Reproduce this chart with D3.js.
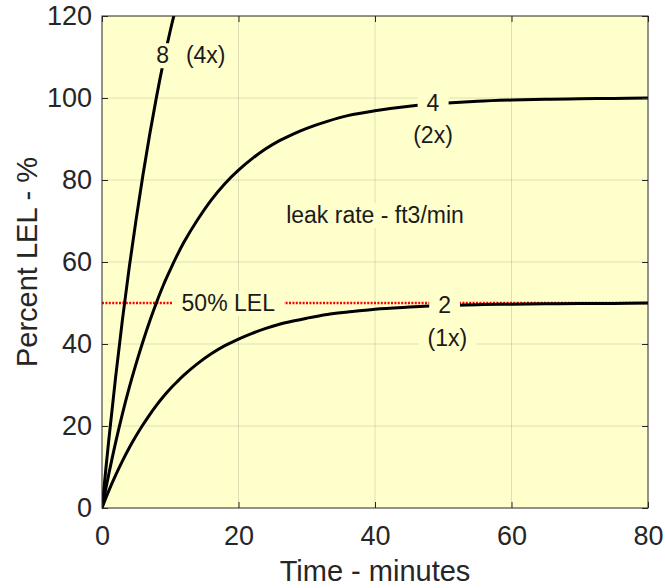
<!DOCTYPE html>
<html>
<head>
<meta charset="utf-8">
<script src="https://cdn.jsdelivr.net/npm/d3@7"></script>
<style>
    body { margin: 0; background: #fff; }
    text { font-family: "Liberation Sans", Arial, sans-serif; fill: #262626; }
    .tick text { font-size: 27px; }
    .axisLabel { font-size: 29px; }
    .note { font-size: 23px; fill: #1a1a1a; }
</style>
</head>
<body>
<script>
// time in minutes
const times = [0, 1, 2, 3, 4, 5, 6, 7, 8, 9, 10, 11, 12, 14, 16, 18, 20, 22, 24, 26, 28, 30, 33, 36, 40, 45, 50, 55, 60, 65, 70, 75, 80];

// percent LEL, leak rate 2, 4, 8 ft3/min
const rate2 = [0, 4.2, 8.0, 11.5, 14.7, 17.6, 20.3, 22.8, 25.1, 27.2, 29.1, 30.8, 32.4, 35.2, 37.6, 39.6, 41.2, 42.6, 43.8, 44.8, 45.6, 46.3, 47.2, 47.8, 48.5, 49.0, 49.4, 49.6, 49.7, 49.8, 49.9, 49.9, 50.0];
const rate4 = [0, 8.3, 16.0, 23.0, 29.4, 35.2, 40.6, 45.6, 50.2, 54.4, 58.1, 61.6, 64.8, 70.3, 75.1, 79.1, 82.4, 85.2, 87.6, 89.6, 91.2, 92.6, 94.3, 95.7, 96.9, 98.0, 98.7, 99.2, 99.5, 99.7, 99.8, 99.9, 100.0];
const rate8 = [0, 16.7, 32.0, 46.0, 58.8, 70.4, 81.2, 91.2, 100.4, 108.8, 116.4, 123.2, 129.6];

const xTicks = [0, 20, 40, 60, 80];
const yTicks = [0, 20, 40, 60, 80, 100, 120];
const lelLevel = 50;

// annotations in data coordinates
const notes = [
    { text: "8", t: 8.9, v: 110.5 },
    { text: "(4x)", t: 15.2, v: 110.5 },
    { text: "4", t: 48.5, v: 98.8 },
    { text: "(2x)", t: 48.5, v: 91.0 },
    { text: "2", t: 50.2, v: 49.6 },
    { text: "(1x)", t: 50.6, v: 41.6 },
    { text: "50% LEL", t: 18.5, v: 50 },
    { text: "leak rate - ft3/min", t: 40, v: 71.5 }
];

const margin = { top: 16, right: 17, bottom: 80, left: 102 };
const width = 665 - margin.left - margin.right;
const height = 588 - margin.top - margin.bottom;
const bg = "#ffffcc";

const x = d3.scaleLinear().domain([0, 80]).range([0, width]);
const y = d3.scaleLinear().domain([0, 120]).range([height, 0]);

const svg = d3.select("body").append("svg")
    .attr("width", 665)
    .attr("height", 588);

const g = svg.append("g")
    .attr("transform", "translate(" + margin.left + "," + margin.top + ")");

g.append("defs").append("clipPath")
    .attr("id", "plotClip")
    .append("rect")
    .attr("width", width)
    .attr("height", height);

g.append("rect")
    .attr("width", width)
    .attr("height", height)
    .attr("fill", bg);

// grid
g.append("g").selectAll("line")
    .data(xTicks.slice(1, -1))
    .enter().append("line")
    .attr("x1", d => x(d)).attr("x2", d => x(d))
    .attr("y1", 0).attr("y2", height)
    .attr("stroke", "rgba(38,38,38,0.15)");
g.append("g").selectAll("line")
    .data(yTicks.slice(1, -1))
    .enter().append("line")
    .attr("x1", 0).attr("x2", width)
    .attr("y1", d => y(d)).attr("y2", d => y(d))
    .attr("stroke", "rgba(38,38,38,0.15)");

// 50% LEL line
g.append("line")
    .attr("x1", 0).attr("x2", width)
    .attr("y1", y(lelLevel)).attr("y2", y(lelLevel))
    .attr("stroke", "#ff0000")
    .attr("stroke-width", 2.6)
    .attr("stroke-dasharray", "2,1.4");

// curves
const line = d3.line()
    .x((d, i) => x(times[i]))
    .y(d => y(d))
    .curve(d3.curveCatmullRom);

const curves = g.append("g").attr("clip-path", "url(#plotClip)");
[rate2, rate4, rate8].forEach(function (s) {
    curves.append("path")
        .datum(s)
        .attr("fill", "none")
        .attr("stroke", "#000")
        .attr("stroke-width", 3)
        .attr("d", line);
});

// annotations with background boxes
const noteG = g.selectAll(".noteG")
    .data(notes)
    .enter().append("g");
noteG.append("rect").attr("fill", bg);
noteG.append("text")
    .attr("class", "note")
    .attr("x", d => x(d.t))
    .attr("y", d => y(d.v))
    .attr("dy", "0.36em")
    .attr("text-anchor", "middle")
    .text(d => d.text);
noteG.each(function () {
    const b = d3.select(this).select("text").node().getBBox();
    d3.select(this).select("rect")
        .attr("x", b.x - 9)
        .attr("y", b.y + 1)
        .attr("width", b.width + 18)
        .attr("height", b.height - 1);
});

// axes
const xAxis = d3.axisBottom(x).tickValues(xTicks).tickSizeInner(-6).tickSizeOuter(0).tickPadding(18);
const yAxis = d3.axisLeft(y).tickValues(yTicks).tickSizeInner(-6).tickSizeOuter(0).tickPadding(10);

g.append("g")
    .attr("transform", "translate(0," + height + ")")
    .call(xAxis);
g.append("g")
    .call(yAxis);
g.append("g")
    .call(d3.axisTop(x).tickValues(xTicks).tickSizeInner(-6).tickSizeOuter(0).tickFormat(""));
g.append("g")
    .attr("transform", "translate(" + width + ",0)")
    .call(d3.axisRight(y).tickValues(yTicks).tickSizeInner(-6).tickSizeOuter(0).tickFormat(""));

g.selectAll(".domain").remove();
g.selectAll(".tick line").attr("stroke", "#262626");

g.append("rect")
    .attr("width", width)
    .attr("height", height)
    .attr("fill", "none")
    .attr("stroke", "#262626")
    .attr("stroke-width", 1);

// axis labels
svg.append("text")
    .attr("class", "axisLabel")
    .attr("x", margin.left + width / 2)
    .attr("y", 581)
    .attr("text-anchor", "middle")
    .text("Time - minutes");

svg.append("text")
    .attr("class", "axisLabel")
    .attr("transform", "translate(37," + (margin.top + height / 2) + ") rotate(-90)")
    .attr("text-anchor", "middle")
    .text("Percent LEL - %");
</script>
</body>
</html>
